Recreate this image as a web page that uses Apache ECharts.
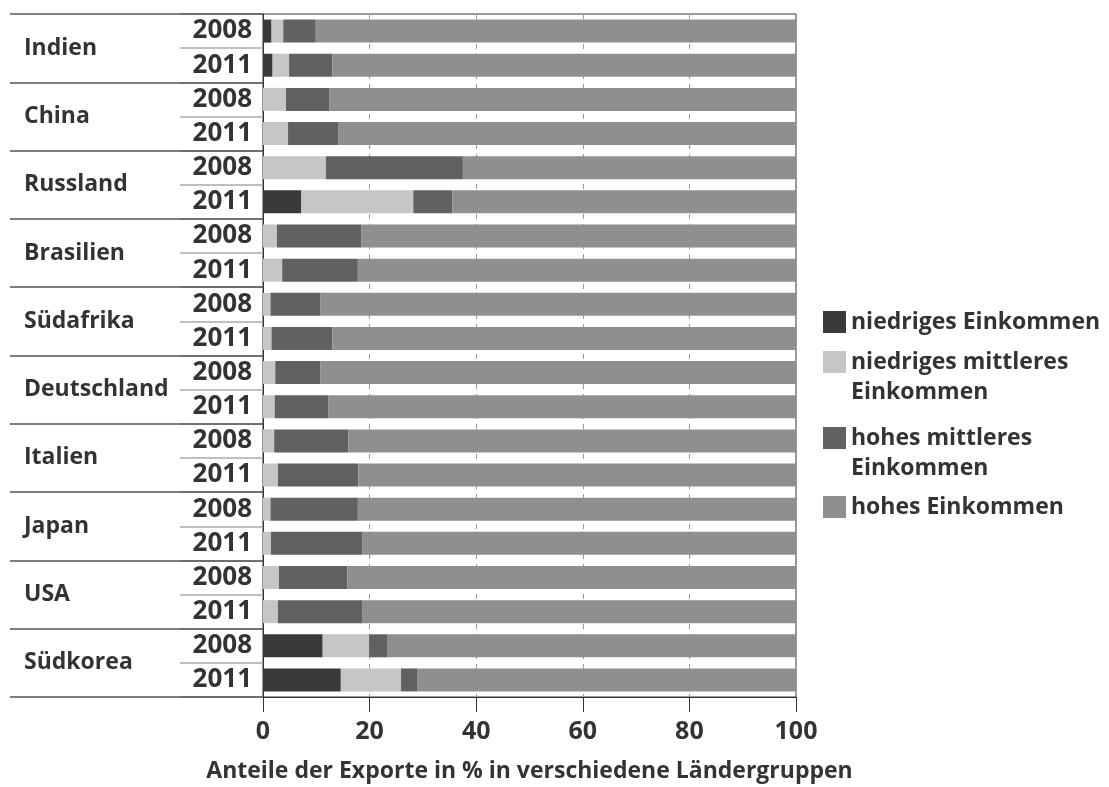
<!DOCTYPE html>
<html><head><meta charset="utf-8">
<script src="https://cdn.jsdelivr.net/npm/echarts@6/dist/echarts.min.js"></script>
<style>html,body{margin:0;padding:0;background:#fff}#c{width:1109px;height:787px}</style>
</head><body><div id="c"></div>
<script>
const countries = ['Indien','China','Russland','Brasilien','Südafrika','Deutschland','Italien','Japan','USA','Südkorea'];
const years = ['2008','2011'];
const rowLabels = ['2008','2011','2008','2011','2008','2011','2008','2011','2008','2011','2008','2011','2008','2011','2008','2011','2008','2011','2008','2011'];
const seriesNames = ['niedriges Einkommen','niedriges mittleres Einkommen','hohes mittleres Einkommen','hohes Einkommen'];
const legendLabels = ['niedriges Einkommen',' \nniedriges mittleres\nEinkommen',' \nhohes mittleres\nEinkommen','hohes Einkommen'];
const low     = [1.6,1.8, 0,0, 0,7.2, 0,0, 0,0, 0,0, 0,0, 0,0, 0,0, 11.2,14.6];
const lowMid  = [2.2,3.1, 4.3,4.7, 11.8,21.0, 2.6,3.6, 1.4,1.6, 2.3,2.2, 2.1,2.8, 1.4,1.5, 3.0,2.8, 8.7,11.3];
const highMid = [6.1,8.1, 8.2,9.5, 25.7,7.3, 15.9,14.2, 9.4,11.4, 8.5,10.1, 13.9,15.1, 16.4,17.2, 12.8,15.9, 3.5,3.0];
const high    = [90.1,87.0, 87.5,85.8, 62.5,64.5, 81.5,82.2, 89.2,87.0, 89.2,87.7, 84.0,82.1, 82.2,81.3, 84.2,81.3, 76.6,71.1];
const xTicks = [0,20,40,60,80,100];
const xTitle = 'Anteile der Exporte in % in verschiedene Ländergruppen';

const colors = ['#3a3a3a','#c6c6c6','#606163','#8f8f8f'];
const FONT = '"Open Sans", sans-serif';
const W = 'bold';
const TXT = '#333333';
const values = [low, lowMid, highMid, high];

const legendTops = [307, 317, 393, 492];
const legends = seriesNames.map((n, i) => ({
  show: true, orient: 'vertical', left: 823, top: legendTops[i], padding: 0,
  itemWidth: 23, itemHeight: 22, itemGap: 0, icon: 'rect', selectedMode: false,
  data: [n],
  formatter: () => legendLabels[i],
  textStyle: { fontFamily: FONT, fontWeight: W, fontSize: 23, color: TXT, lineHeight: 30 }
}));

const option = {
  animation: false,
  color: colors,
  grid: { left: 263, right: 313, top: 14, bottom: 90, show: true, borderColor: '#333', borderWidth: 1, backgroundColor: 'transparent', outerBoundsMode: 'none', containLabel: false },
  legend: legends,
  xAxis: {
    type: 'value', min: 0, max: 100, interval: 20,
    axisLine: { show: true, lineStyle: { color: '#333', width: 1 } },
    axisTick: { show: true, length: 15, lineStyle: { color: '#333', width: 1 } },
    axisLabel: { margin: 22, fontFamily: FONT, fontWeight: W, fontSize: 25, color: TXT, formatter: v => xTicks.includes(v) ? String(v) : '' },
    splitLine: { show: true, lineStyle: { color: '#999', type: [5, 5], width: 1 } },
    name: xTitle, nameLocation: 'middle', nameGap: 63,
    nameTextStyle: { fontFamily: FONT, fontWeight: W, fontSize: 23, color: TXT }
  },
  yAxis: [
    {
      type: 'category', data: rowLabels, inverse: true,
      axisLine: { show: true, lineStyle: { color: '#333', width: 1 } },
      axisTick: { show: true, length: 83, interval: 0, lineStyle: { color: '#aaa', width: 1.5 } },
      axisLabel: { margin: 11, interval: 0, fontFamily: FONT, fontWeight: W, fontSize: 26, color: TXT },
      splitLine: { show: false }
    },
    {
      type: 'category', data: countries, inverse: true, position: 'left', offset: 0,
      axisLine: { show: false },
      axisTick: { show: true, length: 253, interval: 0, lineStyle: { color: '#555', width: 1.5 } },
      axisLabel: { margin: 239, align: 'left', interval: 0, fontFamily: FONT, fontWeight: W, fontSize: 23, color: TXT },
      splitLine: { show: false }
    }
  ],
  series: seriesNames.map((n, i) => ({
    name: n, type: 'bar', stack: 'total', yAxisIndex: 0, barWidth: 23,
    itemStyle: { color: colors[i] }, data: values[i]
  }))
};
const chart = echarts.init(document.getElementById('c'), null, { renderer: 'canvas' });
chart.setOption(option);
</script></body></html>
